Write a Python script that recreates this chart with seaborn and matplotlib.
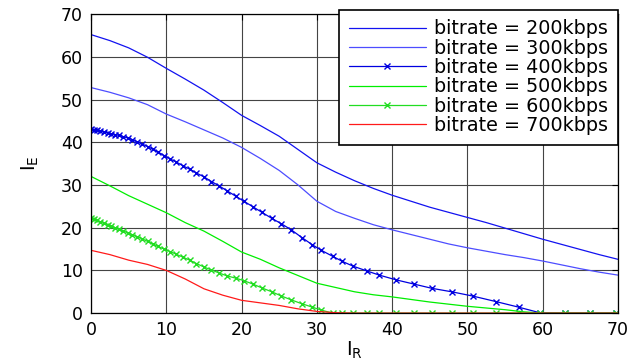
import matplotlib
matplotlib.use("Agg")
import matplotlib.pyplot as plt
import seaborn as sns
import pandas as pd

# coarse grid for the plain lines
x_line = [0, 2.5, 5, 7.5, 10, 12.5, 15, 17.5, 20, 22.5, 25, 27.5, 30, 32.5, 35,
          37.5, 40, 42.5, 45, 47.5, 50, 52.5, 55, 57.5, 60, 62.5, 65, 67.5, 70]
ie_200 = [65.2, 63.8, 62.1, 59.9, 57.3, 54.8, 52.2, 49.3, 46.3, 43.9, 41.4, 38.3, 35.2,
          33.0, 31.0, 29.2, 27.6, 26.2, 24.8, 23.6, 22.4, 21.2, 19.9, 18.6, 17.3,
          16.1, 14.9, 13.7, 12.6]
ie_300 = [52.8, 51.7, 50.4, 48.8, 46.6, 44.8, 42.9, 41.0, 38.8, 36.2, 33.4, 30.0, 26.2,
          23.8, 22.2, 20.7, 19.5, 18.4, 17.3, 16.2, 15.3, 14.5, 13.7, 13.0, 12.2,
          11.3, 10.4, 9.6, 8.9]
ie_500 = [32.0, 29.8, 27.5, 25.5, 23.5, 21.2, 19.2, 16.8, 14.3, 12.6, 10.6, 8.8, 7.0,
          6.0, 5.0, 4.3, 3.8, 3.2, 2.6, 2.1, 1.6, 1.2, 0.8, 0.3, 0.0,
          0.0, 0.0, 0.0, 0.0]
ie_700 = [14.7, 13.7, 12.4, 11.4, 10.0, 8.0, 5.7, 4.2, 3.0, 2.4, 1.8, 1.0, 0.4,
          0.1, 0.0, 0.0, 0.0, 0.0, 0.0, 0.0, 0.0, 0.0, 0.0, 0.0, 0.0,
          0.0, 0.0, 0.0, 0.0]

# sample grid of the marked lines
x_mark = [0, 0.4, 0.8, 1.2, 1.7, 2.2, 2.7, 3.2, 3.7, 4.3, 4.9, 5.5, 6.1, 6.8, 7.5,
          8.2, 8.9, 9.7, 10.5, 11.3, 12.2, 13.1, 14.0, 15.0, 16.0, 17.0, 18.1, 19.2,
          20.3, 21.5, 22.7, 24.0, 25.3, 26.6, 28.0, 29.4, 30.6, 32.1, 33.4, 34.8,
          36.6, 38.3, 40.5, 42.9, 45.3, 47.9, 50.7, 53.8, 56.8, 59.6, 63.0, 66.3, 69.8]
ie_400 = [43.0, 42.9, 42.8, 42.6, 42.4, 42.2, 42.0, 41.8, 41.6, 41.3, 41.0, 40.6, 40.1,
          39.6, 39.0, 38.4, 37.7, 36.9, 36.1, 35.4, 34.5, 33.7, 32.8, 31.9, 30.8,
          29.8, 28.6, 27.4, 26.2, 24.9, 23.6, 22.2, 20.9, 19.5, 17.7, 16.0, 14.7,
          13.3, 12.1, 11.0, 9.9, 8.9, 7.8, 6.8, 5.8, 5.0, 4.0, 2.7, 1.4, 0.1,
          0.0, 0.0, 0.0]
ie_600 = [22.3, 22.0, 21.7, 21.4, 21.0, 20.7, 20.3, 20.0, 19.6, 19.2, 18.8, 18.3, 17.9,
          17.4, 16.8, 16.2, 15.6, 15.0, 14.4, 13.8, 13.1, 12.4, 11.6, 10.8, 10.1,
          9.4, 8.7, 8.2, 7.6, 6.8, 5.9, 5.0, 4.0, 3.1, 2.2, 1.4, 0.7,
          0.0, 0.0, 0.0, 0.0, 0.0, 0.0, 0.0, 0.0, 0.0, 0.0, 0.0, 0.0, 0.0,
          0.0, 0.0, 0.0]

labels = ["bitrate = 200kbps", "bitrate = 300kbps", "bitrate = 400kbps",
          "bitrate = 500kbps", "bitrate = 600kbps", "bitrate = 700kbps"]
x_ticks = [0, 10, 20, 30, 40, 50, 60, 70]
y_ticks = [0, 10, 20, 30, 40, 50, 60, 70]

sns.set_theme(style="white")
plt.rcParams['font.family'] = ['DejaVu Sans']
plt.rcParams['mathtext.default'] = 'regular'
plt.rcParams['text.color'] = 'black'
plt.rcParams['axes.labelcolor'] = 'black'

fig = plt.figure(figsize=(6.28, 3.62), dpi=100)
ax = fig.add_axes([0.145, 0.135, 0.839, 0.826])

series = [
    (x_line, ie_200, labels[0], "#1212f0", None),
    (x_line, ie_300, labels[1], "#4d4dff", None),
    (x_mark, ie_400, labels[2], "#0000e0", "x"),
    (x_line, ie_500, labels[3], "#00ee00", None),
    (x_mark, ie_600, labels[4], "#22dd22", "x"),
    (x_line, ie_700, labels[5], "#ff1a1a", None),
]
for xs, ys, lab, col, mk in series:
    df = pd.DataFrame({"IR": xs, "IE": ys})
    kw = dict(marker=mk, markersize=4.5, markeredgewidth=1.0, markeredgecolor=col) if mk else {}
    sns.lineplot(data=df, x="IR", y="IE", ax=ax, color=col, linewidth=0.9,
                 label=lab, sort=False, **kw)

ax.set_xlim(0, 70)
ax.set_ylim(0, 70)
ax.set_xticks(x_ticks)
ax.set_yticks(y_ticks)
ax.tick_params(direction="in", top=True, right=True, length=4, width=0.8,
               labelsize=12.5, colors="black")
ax.tick_params(axis="x", pad=6)
ax.tick_params(axis="y", pad=6)
ax.grid(True, color="#444444", linewidth=0.8)
for s in ax.spines.values():
    s.set_color("black")
    s.set_linewidth(0.9)
ax.set_xlabel("$I_R$", fontsize=14, labelpad=0, color="black")
ax.set_ylabel("$I_E$", fontsize=14, labelpad=14, color="black")

leg = ax.legend(loc="upper right", bbox_to_anchor=(1.0, 1.015), borderaxespad=0,
                fontsize=13.8, frameon=True, fancybox=False, handlelength=4.0,
                labelspacing=0.02, borderpad=0.5, handletextpad=0.45)
leg.get_frame().set_edgecolor("black")
leg.get_frame().set_linewidth(1.2)
leg.get_frame().set_alpha(1)
for t in leg.get_texts():
    t.set_color("black")

fig.savefig("out.png", dpi=100)
